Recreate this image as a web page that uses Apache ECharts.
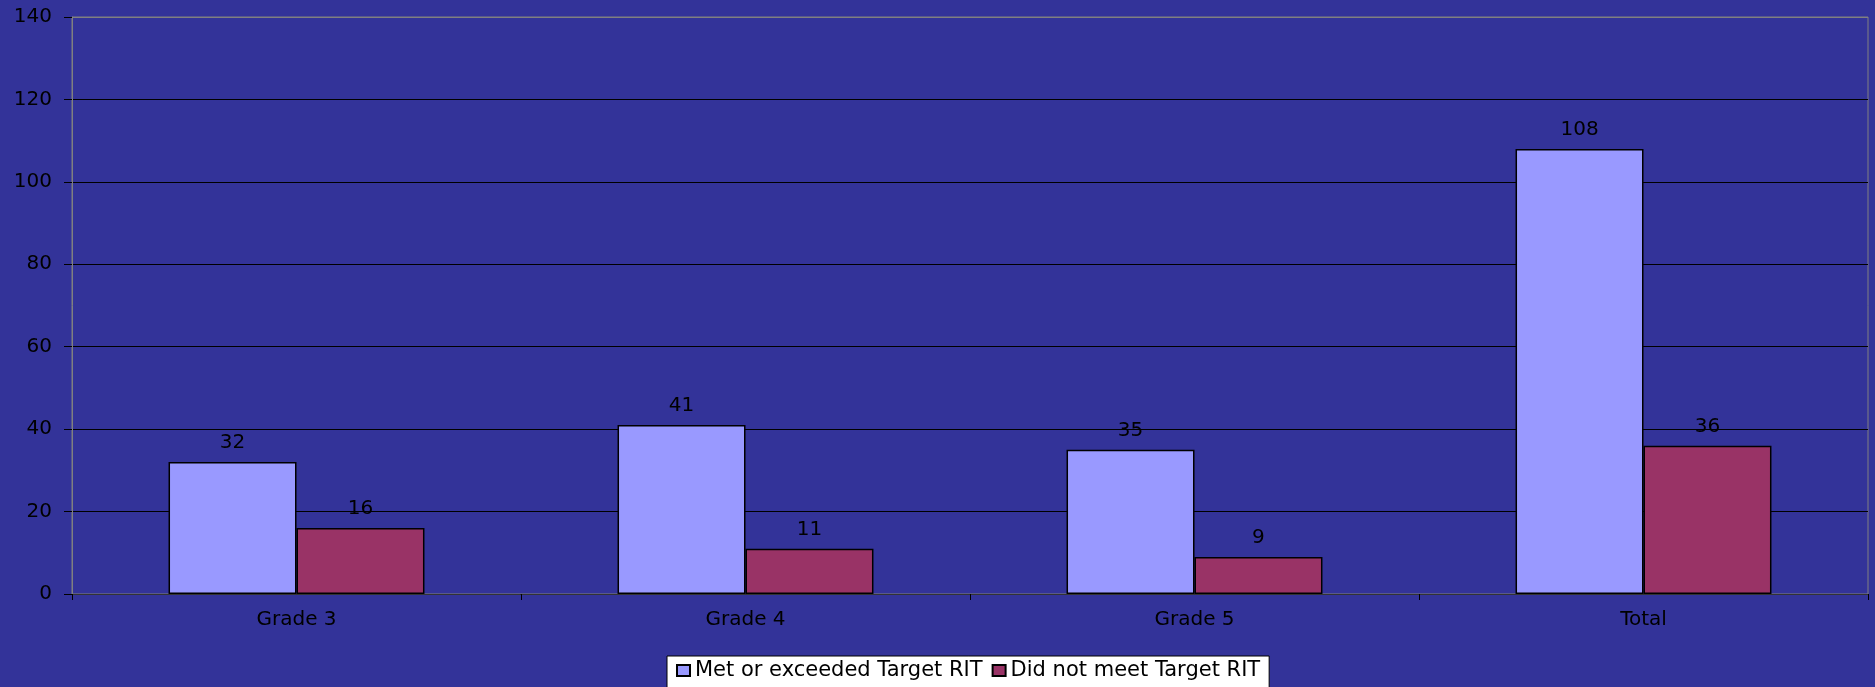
<!DOCTYPE html>
<html>
<head>
<meta charset="utf-8">
<style>
  html, body { margin: 0; padding: 0; background: #333399; }
  #chart { width: 1875px; height: 687px; }
</style>
<script src="https://cdn.jsdelivr.net/npm/echarts@6/dist/echarts.min.js"></script>
</head>
<body>
<div id="chart"></div>
<script>
var categories = ["Grade 3", "Grade 4", "Grade 5", "Total"];
var metTarget = [32, 41, 35, 108];
var notMetTarget = [16, 11, 9, 36];
var seriesNames = ["Met or exceeded Target RIT", "Did not meet Target RIT"];

// the original text looks stretched sideways, DejaVu Sans is the closest wide face
var font = "'DejaVu Sans', 'Liberation Sans', Arial, sans-serif";
var chart = echarts.init(document.getElementById("chart"));

var option = {
  backgroundColor: "#333399",
  animation: false,
  textStyle: { fontFamily: font, color: "#000" },
  grid: {
    left: 72,
    right: 7,
    top: 17,
    bottom: 93,
    show: true,
    borderColor: "#808080",
    borderWidth: 1
  },
  legend: {
    left: 667,
    top: 656,
    padding: [4, 9, 12, 9],
    itemGap: 9,
    itemWidth: 13,
    itemHeight: 11,
    backgroundColor: "#ffffff",
    borderColor: "#000000",
    borderWidth: 1,
    borderRadius: 0,
    icon: "rect",
    textStyle: { fontFamily: font, fontSize: 21, color: "#000" },
    data: seriesNames
  },
  xAxis: {
    type: "category",
    data: categories,
    axisLine: { show: true, lineStyle: { color: "#333333", width: 1 } },
    axisTick: { show: true, length: 6, lineStyle: { color: "#000" } },
    axisLabel: { fontFamily: font, fontSize: 20, color: "#000", margin: 16 },
    splitLine: { show: false }
  },
  yAxis: {
    type: "value",
    min: 0,
    max: 140,
    interval: 20,
    axisLine: { show: true, lineStyle: { color: "#808080", width: 1 } },
    axisTick: { show: true, length: 8, lineStyle: { color: "#000" } },
    axisLabel: { fontFamily: font, fontSize: 20, color: "#000", margin: 20 },
    splitLine: {
      show: true,
      lineStyle: {
        color: ["#000", "#000", "#000", "#000", "#000", "#000", "#000", "#808080"],
        width: 1
      }
    }
  },
  series: [
    {
      name: seriesNames[0],
      type: "bar",
      data: metTarget,
      barGap: "0%",
      barCategoryGap: "43%",
      itemStyle: { color: "#9999FF", borderColor: "#000", borderWidth: 1.5 },
      label: {
        show: true,
        position: "top",
        distance: 9,
        fontFamily: font,
        fontSize: 20,
        color: "#000"
      }
    },
    {
      name: seriesNames[1],
      type: "bar",
      data: notMetTarget,
      barGap: "0%",
      barCategoryGap: "43%",
      itemStyle: { color: "#993366", borderColor: "#000", borderWidth: 1.5 },
      label: {
        show: true,
        position: "top",
        distance: 9,
        fontFamily: font,
        fontSize: 20,
        color: "#000"
      }
    }
  ]
};

chart.setOption(option);
</script>
</body>
</html>
